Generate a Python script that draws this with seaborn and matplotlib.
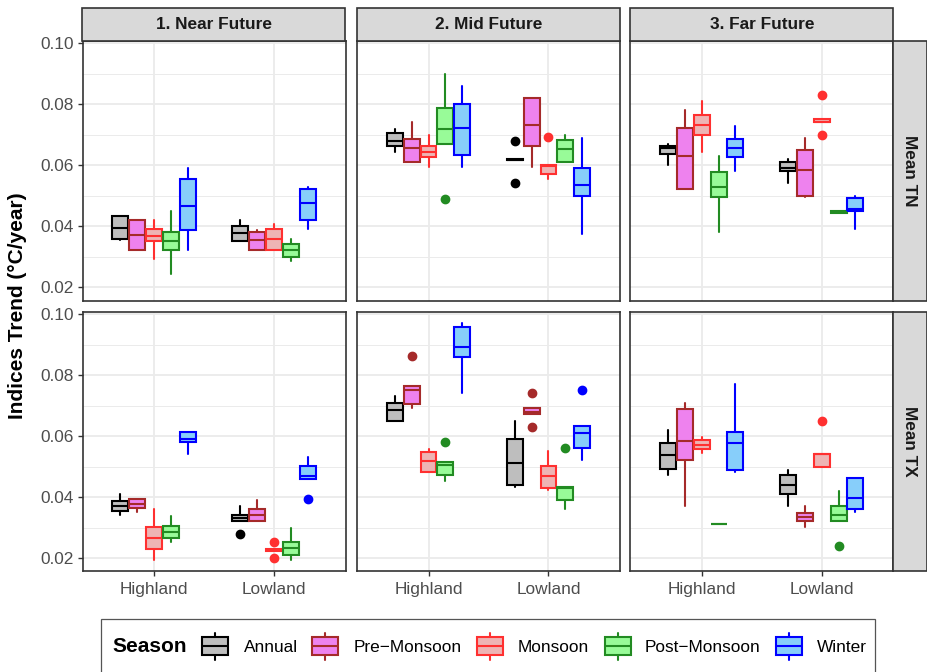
import matplotlib
matplotlib.use("Agg")
import matplotlib.pyplot as plt
from matplotlib.patches import Rectangle
import seaborn as sns

# ---------------- data ----------------
periods = ["1. Near Future", "2. Mid Future", "3. Far Future"]
indices = ["Mean TN", "Mean TX"]
regions = ["Highland", "Lowland"]
seasons = ["Annual", "Pre\u2212Monsoon", "Monsoon", "Post\u2212Monsoon", "Winter"]
y_ticks = [0.02, 0.04, 0.06, 0.08, 0.10]
y_tick_labels = ["0.02", "0.04", "0.06", "0.08", "0.10"]

# order in every list: Highland x 5 seasons, then Lowland x 5 seasons
near_tn_lo  = [0.0354, 0.0323, 0.0292, 0.0244, 0.0323, 0.0352, 0.0323, 0.0323, 0.0287, 0.0392]
near_tn_q1  = [0.0358, 0.0323, 0.0352, 0.0323, 0.0389, 0.0352, 0.0323, 0.0323, 0.0301, 0.0420]
near_tn_med = [0.0394, 0.0373, 0.0368, 0.0352, 0.0467, 0.0378, 0.0356, 0.0359, 0.0321, 0.0475]
near_tn_q3  = [0.0433, 0.0420, 0.0391, 0.0383, 0.0554, 0.0402, 0.0381, 0.0391, 0.0342, 0.0522]
near_tn_hi  = [0.0433, 0.0420, 0.0420, 0.0451, 0.0590, 0.0420, 0.0389, 0.0409, 0.0359, 0.0530]
near_tn_out = {}

mid_tn_lo  = [0.0643, 0.0611, 0.0593, 0.0671, 0.0593, 0.0616, 0.0593, 0.0554, 0.0611, 0.0374]
mid_tn_q1  = [0.0663, 0.0611, 0.0629, 0.0671, 0.0635, 0.0616, 0.0662, 0.0571, 0.0611, 0.0501]
mid_tn_med = [0.0681, 0.0658, 0.0645, 0.0719, 0.0722, 0.0618, 0.0732, 0.0598, 0.0655, 0.0535]
mid_tn_q3  = [0.0707, 0.0688, 0.0664, 0.0789, 0.0802, 0.0620, 0.0821, 0.0601, 0.0682, 0.0592]
mid_tn_hi  = [0.0720, 0.0741, 0.0699, 0.0900, 0.0859, 0.0620, 0.0821, 0.0601, 0.0699, 0.0689]
mid_tn_out = {3: [0.0491], 5: [0.0681, 0.0541], 7: [0.0692]}

far_tn_lo  = [0.0602, 0.0521, 0.0643, 0.0382, 0.0582, 0.0543, 0.0495, 0.0741, 0.0445, 0.0392]
far_tn_q1  = [0.0638, 0.0521, 0.0701, 0.0495, 0.0626, 0.0581, 0.0501, 0.0741, 0.0445, 0.0451]
far_tn_med = [0.0656, 0.0631, 0.0732, 0.0529, 0.0657, 0.0591, 0.0586, 0.0741, 0.0447, 0.0458]
far_tn_q3  = [0.0664, 0.0721, 0.0766, 0.0579, 0.0687, 0.0611, 0.0652, 0.0753, 0.0449, 0.0492]
far_tn_hi  = [0.0670, 0.0780, 0.0810, 0.0630, 0.0730, 0.0620, 0.0690, 0.0753, 0.0449, 0.0500]
far_tn_out = {7: [0.0832, 0.0701]}

near_tx_lo  = [0.0341, 0.0350, 0.0192, 0.0251, 0.0541, 0.0320, 0.0320, 0.0224, 0.0192, 0.0460]
near_tx_q1  = [0.0355, 0.0365, 0.0229, 0.0264, 0.0579, 0.0320, 0.0320, 0.0224, 0.0211, 0.0460]
near_tx_med = [0.0372, 0.0377, 0.0267, 0.0284, 0.0590, 0.0332, 0.0342, 0.0226, 0.0232, 0.0469]
near_tx_q3  = [0.0388, 0.0392, 0.0302, 0.0304, 0.0612, 0.0342, 0.0362, 0.0228, 0.0251, 0.0502]
near_tx_hi  = [0.0409, 0.0392, 0.0361, 0.0339, 0.0612, 0.0370, 0.0389, 0.0228, 0.0299, 0.0530]
near_tx_out = {5: [0.0279], 7: [0.0251, 0.0201], 9: [0.0392]}

mid_tx_lo  = [0.0650, 0.0693, 0.0481, 0.0452, 0.0742, 0.0432, 0.0671, 0.0422, 0.0361, 0.0523]
mid_tx_q1  = [0.0650, 0.0706, 0.0481, 0.0473, 0.0861, 0.0440, 0.0671, 0.0429, 0.0391, 0.0560]
mid_tx_med = [0.0685, 0.0751, 0.0517, 0.0504, 0.0892, 0.0513, 0.0680, 0.0469, 0.0431, 0.0611]
mid_tx_q3  = [0.0709, 0.0765, 0.0547, 0.0514, 0.0957, 0.0591, 0.0691, 0.0502, 0.0433, 0.0632]
mid_tx_hi  = [0.0730, 0.0765, 0.0559, 0.0514, 0.0970, 0.0650, 0.0691, 0.0550, 0.0433, 0.0632]
mid_tx_out = {1: [0.0862], 3: [0.0582], 6: [0.0741, 0.0631], 8: [0.0561], 9: [0.0751]}

far_tx_lo  = [0.0471, 0.0372, 0.0543, 0.0311, 0.0482, 0.0372, 0.0301, 0.0500, 0.0320, 0.0352]
far_tx_q1  = [0.0493, 0.0522, 0.0557, 0.0311, 0.0489, 0.0410, 0.0322, 0.0500, 0.0320, 0.0361]
far_tx_med = [0.0538, 0.0584, 0.0571, 0.0311, 0.0578, 0.0440, 0.0335, 0.0541, 0.0341, 0.0398]
far_tx_q3  = [0.0578, 0.0690, 0.0587, 0.0311, 0.0613, 0.0471, 0.0349, 0.0541, 0.0372, 0.0461]
far_tx_hi  = [0.0620, 0.0709, 0.0598, 0.0311, 0.0770, 0.0490, 0.0369, 0.0541, 0.0419, 0.0461]
far_tx_out = {7: [0.0650], 8: [0.0240]}

edge_colors = ["#000000", "#A52A2A", "#FF3030", "#228B22", "#0000FF"]
fill_colors = ["#BEBEBE", "#EE82EE", "#EEB4B4", "#98FB98", "#87CEFA"]

panels = [
    [(near_tn_lo, near_tn_q1, near_tn_med, near_tn_q3, near_tn_hi, near_tn_out),
     (mid_tn_lo, mid_tn_q1, mid_tn_med, mid_tn_q3, mid_tn_hi, mid_tn_out),
     (far_tn_lo, far_tn_q1, far_tn_med, far_tn_q3, far_tn_hi, far_tn_out)],
    [(near_tx_lo, near_tx_q1, near_tx_med, near_tx_q3, near_tx_hi, near_tx_out),
     (mid_tx_lo, mid_tx_q1, mid_tx_med, mid_tx_q3, mid_tx_hi, mid_tx_out),
     (far_tx_lo, far_tx_q1, far_tx_med, far_tx_q3, far_tx_hi, far_tx_out)],
]

# ---------------- style ----------------
sns.set_theme(style="white")
plt.rcParams["font.family"] = ["Liberation Sans", "DejaVu Sans"]

W, H = 927, 672
fig = plt.figure(figsize=(W / 100, H / 100), dpi=100)

col_l = [82.5, 357.0, 630.3]
col_w = 263.0
row_t = [41.0, 311.7]
row_h = 259.7
GRID = "#EBEBEB"
BORDER = "#333333"
LW = 1.5
DODGE = 0.14
BOXW = 0.132

def fx(px):
    return px / W

def fy(py):
    return 1 - py / H

def draw_panel(ax, lo, q1, med, q3, hi, out):
    for k in range(10):
        r, s = divmod(k, 5)
        stats = [dict(whislo=lo[k], q1=q1[k], med=med[k], q3=q3[k],
                      whishi=hi[k], fliers=out.get(k, []))]
        ax.bxp(stats, positions=[r + (s - 2) * DODGE], widths=BOXW,
               patch_artist=True, showcaps=False, manage_ticks=False,
               boxprops=dict(facecolor=fill_colors[s], edgecolor=edge_colors[s], linewidth=LW),
               medianprops=dict(color=edge_colors[s], linewidth=LW),
               whiskerprops=dict(color=edge_colors[s], linewidth=LW),
               flierprops=dict(marker="o", markerfacecolor=edge_colors[s],
                               markeredgecolor=edge_colors[s], markersize=6))

for ri in range(2):
    for ci in range(3):
        ax = fig.add_axes([fx(col_l[ci]), fy(row_t[ri] + row_h), fx(col_w), row_h / H])
        ax.set_facecolor("white")
        draw_panel(ax, *panels[ri][ci])
        ax.set_xlim(-0.596, 1.596)
        ax.set_ylim(0.0156, 0.1008)
        ax.set_yticks(y_ticks)
        ax.set_yticks([0.03, 0.05, 0.07, 0.09], minor=True)
        ax.set_xticks([0, 1])
        ax.grid(True, which="major", color=GRID, linewidth=1.3, zorder=0)
        ax.grid(True, which="minor", axis="y", color=GRID, linewidth=0.7, zorder=0)
        ax.set_axisbelow(True)
        for sp in ax.spines.values():
            sp.set_color(BORDER)
            sp.set_linewidth(1.2)
        ax.tick_params(which="minor", length=0)
        ax.tick_params(which="major", color=BORDER, width=1.0, length=3.5,
                       labelsize=12.4, labelcolor="#4D4D4D", pad=2.5)
        if ci == 0:
            ax.set_yticklabels(y_tick_labels)
            ax.tick_params(axis="y", left=True)
        else:
            ax.tick_params(axis="y", left=False, labelleft=False)
        if ri == 1:
            ax.set_xticklabels(regions)
            ax.tick_params(axis="x", bottom=True, pad=4)
        else:
            ax.tick_params(axis="x", bottom=False, labelbottom=False)

# overlay in pixel coordinates for strips and legend
ov = fig.add_axes([0, 0, 1, 1], zorder=10)
ov.set_xlim(0, W)
ov.set_ylim(H, 0)
ov.axis("off")
ov.patch.set_alpha(0)

STRIP = "#D9D9D9"
for ci in range(3):
    ov.add_patch(Rectangle((col_l[ci], 8), col_w, 33, facecolor=STRIP,
                           edgecolor=BORDER, linewidth=1.2))
    ov.text(col_l[ci] + col_w / 2, 24.5, periods[ci], ha="center", va="center",
            fontsize=12.4, fontweight="bold", color="#1A1A1A")
for ri in range(2):
    ov.add_patch(Rectangle((893.3, row_t[ri]), 33.4, row_h, facecolor=STRIP,
                           edgecolor=BORDER, linewidth=1.2, clip_on=False))
    ov.text(910, row_t[ri] + row_h / 2, indices[ri], ha="center", va="center",
            rotation=-90, fontsize=12.4, fontweight="bold", color="#1A1A1A")

fig.text(fx(18), fy(306), "Indices Trend (\u00b0C/year)", rotation=90,
         ha="center", va="center", fontsize=15, fontweight="bold", color="black")

# legend
ov.add_patch(Rectangle((101, 619), 774, 60, facecolor="white",
                       edgecolor="#555555", linewidth=0.9))
ov.text(112.5, 647, "Season", ha="left", va="center", fontsize=15,
        fontweight="bold", color="black")
key_x = [202.5, 312.5, 477.5, 605.0, 776.5]
txt_x = [244.0, 354.0, 517.5, 645.0, 816.5]
for s in range(5):
    x0 = key_x[s]
    ov.plot([x0 + 13, x0 + 13], [633, 637], color=edge_colors[s], lw=LW)
    ov.plot([x0 + 13, x0 + 13], [655, 660], color=edge_colors[s], lw=LW)
    ov.add_patch(Rectangle((x0, 637), 26, 18, facecolor=fill_colors[s],
                           edgecolor=edge_colors[s], linewidth=LW))
    ov.plot([x0, x0 + 26], [646, 646], color=edge_colors[s], lw=LW)
    ov.text(txt_x[s], 647, seasons[s], ha="left", va="center", fontsize=12.4,
            color="black")

fig.savefig("out.png", dpi=100)
